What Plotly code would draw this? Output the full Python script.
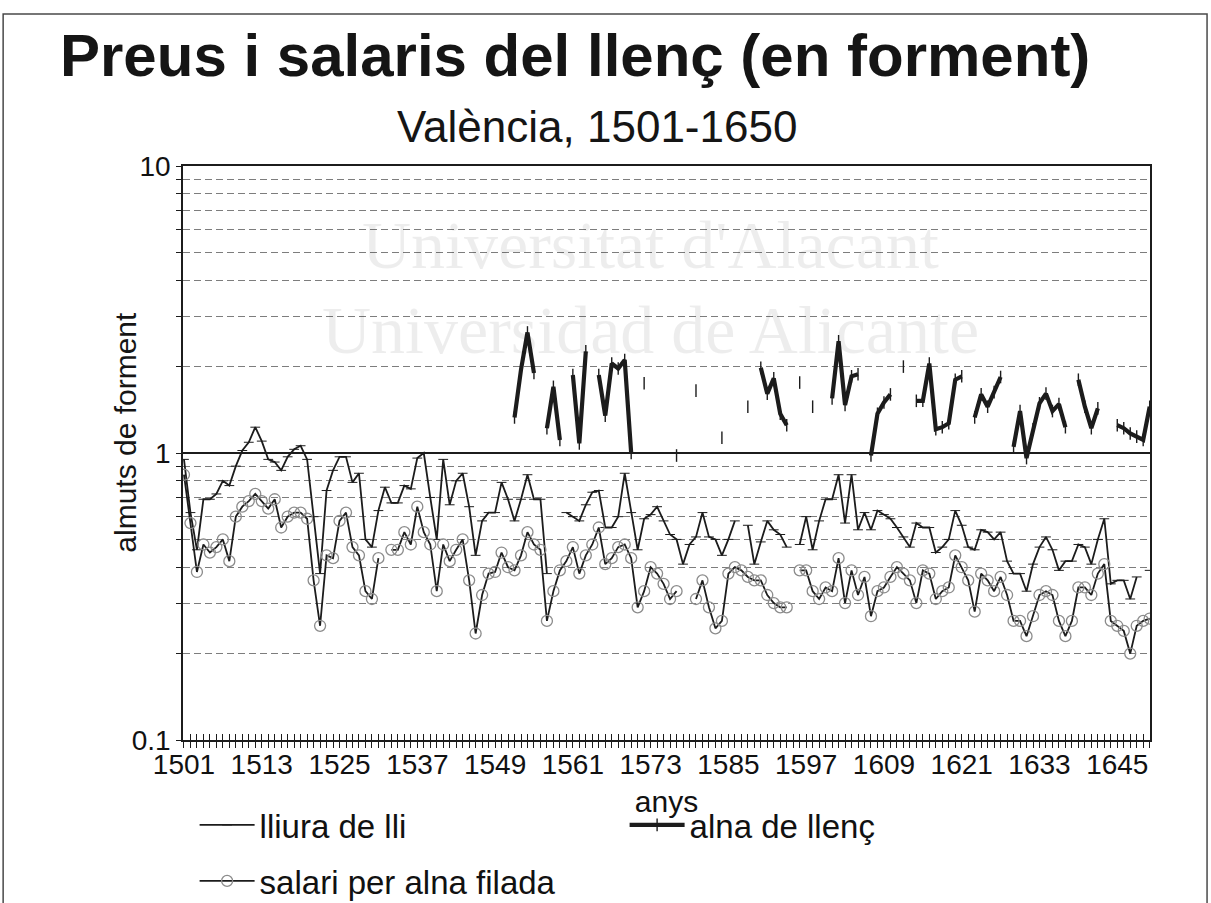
import plotly.graph_objects as go

# ---- data: almuts of wheat per unit, Valencia 1501-1650 (None = no observation) ----
years = list(range(1501, 1651))

lliura_de_lli = [
    0.95, 0.62, 0.46, 0.69, 0.69, 0.72, 0.80, 0.77, 0.90, 1.02,   # 1501-1510
    1.09, 1.23, 1.10, 0.95, 0.93, 0.87, 0.97, 1.03, 1.06, 0.95,   # 1511-1520
    0.60, 0.38, 0.74, 0.87, 0.97, 0.97, 0.79, 0.85, 0.50, 0.47,   # 1521-1530
    0.63, 0.76, 0.67, 0.67, 0.77, 0.75, 0.96, 1.00, 0.70, 0.50,   # 1531-1540
    0.95, 0.66, 0.80, 0.85, 0.65, 0.44, 0.58, 0.62, 0.62, 0.79,   # 1541-1550
    0.69, 0.58, 0.69, 0.84, 0.69, 0.69, 0.38, None, None, 0.62,   # 1551-1560
    0.60, 0.58, 0.66, 0.73, 0.74, 0.55, 0.55, 0.60, 0.85, 0.62,   # 1561-1570
    0.46, 0.59, 0.61, 0.65, 0.58, 0.52, 0.50, 0.41, 0.48, 0.51,   # 1571-1580
    0.62, 0.51, 0.50, 0.44, 0.50, 0.58, None, 0.56, 0.41, 0.49,   # 1581-1590
    0.58, 0.54, 0.52, 0.47, None, 0.48, 0.60, 0.46, 0.58, 0.69,   # 1591-1600
    0.69, 0.84, 0.57, 0.84, 0.54, 0.62, 0.54, 0.63, 0.61, 0.59,   # 1601-1610
    0.55, 0.51, 0.47, 0.57, 0.55, 0.55, 0.45, 0.47, 0.50, 0.63,   # 1611-1620
    0.56, 0.47, 0.46, 0.54, 0.53, 0.50, 0.53, 0.42, 0.38, 0.38,   # 1621-1630
    0.33, 0.41, 0.47, 0.51, 0.46, 0.39, 0.42, 0.42, 0.48, 0.47,   # 1631-1640
    0.41, 0.50, 0.59, 0.35, 0.36, 0.36, 0.31, 0.37, None, 0.39,   # 1641-1650
]

alna_de_llenc = [None] * 50 + [                                   # 1501-1550
    None, 1.33, 1.95, 2.63, 1.90, None, 1.22, 1.70, 1.11, None,   # 1551-1560
    1.87, 1.08, 2.26, None, 1.87, 1.35, 2.05, 1.97, 2.11, 1.00,   # 1561-1570
    None, 1.75, None, None, None, None, 0.98, None, None, 1.65,   # 1571-1580
    None, None, None, 1.13, None, None, None, 1.45, None, 1.98,   # 1581-1590
    1.61, 1.82, 1.37, 1.25, None, 1.76, None, 1.45, None, None,   # 1591-1600
    1.55, 2.45, 1.47, 1.85, 1.88, None, 0.98, 1.37, 1.50, 1.60,   # 1601-1610
    None, 2.00, None, 1.52, 1.52, 2.05, 1.21, 1.23, 1.27, 1.80,   # 1611-1620
    1.85, None, 1.33, 1.60, 1.45, 1.63, 1.84, None, 1.05, 1.40,   # 1621-1630
    0.96, 1.21, 1.49, 1.61, 1.40, 1.48, 1.23, None, 1.80, 1.45,   # 1631-1640
    1.22, 1.43, None, None, 1.25, 1.22, 1.17, 1.14, 1.11, 1.45,   # 1641-1650
]

salari_alna_filada = [
    0.84, 0.57, 0.385, 0.48, 0.45, 0.47, 0.50, 0.42, 0.60, 0.65,  # 1501-1510
    0.68, 0.72, 0.68, 0.64, 0.69, 0.55, 0.60, 0.62, 0.62, 0.59,   # 1511-1520
    0.36, 0.25, 0.44, 0.43, 0.58, 0.62, 0.47, 0.44, 0.33, 0.31,   # 1521-1530
    0.43, None, 0.46, 0.46, 0.53, 0.48, 0.65, 0.53, 0.48, 0.33,   # 1531-1540
    0.48, 0.42, 0.46, 0.50, 0.36, 0.235, 0.32, 0.38, 0.385, 0.45, # 1541-1550
    0.40, 0.39, 0.44, 0.53, 0.48, 0.46, 0.26, 0.33, 0.39, 0.42,   # 1551-1560
    0.47, 0.38, 0.44, 0.48, 0.55, 0.41, 0.43, 0.47, 0.48, 0.43,   # 1561-1570
    0.29, 0.33, 0.40, 0.38, 0.35, 0.31, 0.33, None, None, 0.31,   # 1571-1580
    0.36, 0.29, 0.245, 0.26, 0.38, 0.40, 0.39, 0.37, 0.36, 0.36,  # 1581-1590
    0.32, 0.30, 0.29, 0.29, None, 0.39, 0.39, 0.33, 0.31, 0.34,   # 1591-1600
    0.33, 0.43, 0.30, 0.39, 0.32, 0.37, 0.27, 0.33, 0.34, 0.37,   # 1601-1610
    0.40, 0.38, 0.36, 0.30, 0.39, 0.38, 0.31, 0.33, 0.34, 0.44,   # 1611-1620
    0.40, 0.36, 0.28, 0.38, 0.36, 0.33, 0.37, 0.32, 0.26, 0.26,   # 1621-1630
    0.23, 0.27, 0.32, 0.33, 0.32, 0.26, 0.23, 0.26, 0.34, 0.34,   # 1631-1640
    0.32, 0.38, 0.41, 0.26, 0.25, 0.24, 0.20, 0.25, 0.26, 0.265,  # 1641-1650
]

label_years = years[::12]
y_grid_values = [0.1, 0.2, 0.3, 0.4, 0.5, 0.6, 0.7, 0.8, 0.9,
                 1, 2, 3, 4, 5, 6, 7, 8, 9, 10]
y_labelled = {0.1: "0.1", 1: "1", 10: "10"}

FONT = "Liberation Sans, Arial, sans-serif"
INK = "#1c1c1c"

fig = go.Figure()

fig.add_trace(go.Scatter(
    x=years, y=lliura_de_lli, name="lliura de lli", mode="lines+markers",
    line=dict(color=INK, width=1.8),
    marker=dict(symbol="line-ew", size=7, line=dict(width=1, color=INK)),
    legend="legend",
))
fig.add_trace(go.Scatter(
    x=years, y=alna_de_llenc, name="alna de llenç", mode="lines+markers",
    line=dict(color=INK, width=4.2),
    marker=dict(symbol="line-ns", size=9, line=dict(width=1.4, color=INK)),
    legend="legend",
))
fig.add_trace(go.Scatter(
    x=years, y=salari_alna_filada, name="salari per alna filada",
    mode="lines+markers",
    line=dict(color=INK, width=1.8),
    marker=dict(symbol="circle-open", size=11, color="#8c8c8c",
                line=dict(width=1.3)),
    legend="legend2",
))
# carrier for the inward half of the year ticks
fig.add_trace(go.Scatter(
    x=years, y=[None] * len(years), xaxis="x2", showlegend=False,
    hoverinfo="skip", mode="lines",
))

x_range = [1500.85, 1650.05]

fig.update_layout(
    width=1211, height=903,
    margin=dict(l=183, r=61, t=166, b=163, autoexpand=False),
    paper_bgcolor="white", plot_bgcolor="white",
    font=dict(family=FONT, color="#111111"),
    xaxis=dict(
        range=x_range, tickmode="array", tickvals=years,
        ticktext=[str(y) if y in label_years else "" for y in years],
        ticks="outside", ticklen=6, tickwidth=1, tickcolor=INK,
        tickangle=0, tickfont=dict(size=28, family=FONT),
        ticklabelstandoff=-7,
        showline=True, linecolor=INK, linewidth=1.5, mirror=True,
        showgrid=False, zeroline=False, automargin=False,
        title=dict(text="anys", font=dict(size=30, family=FONT), standoff=12),
    ),
    xaxis2=dict(
        range=x_range, overlaying="x", anchor="y", side="bottom",
        tickmode="array", tickvals=years, ticks="inside", ticklen=6,
        tickwidth=1, tickcolor=INK, showticklabels=False,
        showgrid=False, showline=False, zeroline=False,
    ),
    yaxis=dict(
        type="log", range=[-1, 1], tickmode="array", tickvals=y_grid_values,
        ticktext=[y_labelled.get(v, "") for v in y_grid_values],
        ticks="outside", ticklen=5, tickwidth=1, tickcolor=INK,
        tickfont=dict(size=28, family=FONT),
        showgrid=True, gridcolor="#7d7d7d", gridwidth=1, griddash="7px,4px",
        showline=True, linecolor=INK, linewidth=1.5, mirror=True,
        zeroline=False, automargin=False,
    ),
    legend=dict(
        orientation="h", x=0.012, y=-0.148, xanchor="left", yanchor="middle",
        font=dict(size=33, family=FONT), itemwidth=55,
        entrywidth=360, entrywidthmode="pixels",
        bgcolor="rgba(0,0,0,0)", traceorder="normal",
    ),
    legend2=dict(
        orientation="h", x=0.012, y=-0.2456, xanchor="left", yanchor="middle",
        font=dict(size=33, family=FONT), itemwidth=55,
        bgcolor="rgba(0,0,0,0)",
    ),
    showlegend=True,
)

# solid reference line at 1 almut (the middle of the log range)
fig.add_shape(type="line", xref="paper", yref="paper", x0=0, x1=1,
              y0=0.5, y1=0.5, line=dict(color=INK, width=2))

# outer frame of the chart
fig.add_shape(type="rect", xref="paper", yref="paper",
              x0=-0.186, x1=1.059, y0=-0.30, y1=1.2648,
              line=dict(color="#4a4a4a", width=1.5), layer="below")

annotations = [
    dict(text="Universitat d'Alacant", x=0.483, y=0.862,
         font=dict(size=68, family="Liberation Serif, Times New Roman, serif",
                   color="rgba(0,0,0,0.07)")),
    dict(text="Universidad de Alicante", x=0.483, y=0.714,
         font=dict(size=68, family="Liberation Serif, Times New Roman, serif",
                   color="rgba(0,0,0,0.07)")),
    dict(text="<b>Preus i salaris del llenç (en forment)</b>", x=0.405, y=1.193,
         font=dict(size=60, family=FONT, color="#151515")),
    dict(text="València, 1501-1650", x=0.428, y=1.068,
         font=dict(size=44, family=FONT, color="#151515")),
    dict(text="almuts de forment", x=-0.059, y=0.537, textangle=-90,
         font=dict(size=30, family=FONT, color="#151515")),
]
for a in annotations:
    fig.add_annotation(xref="paper", yref="paper", showarrow=False,
                       xanchor="center", yanchor="middle", **a)

fig.write_html("out.html")
